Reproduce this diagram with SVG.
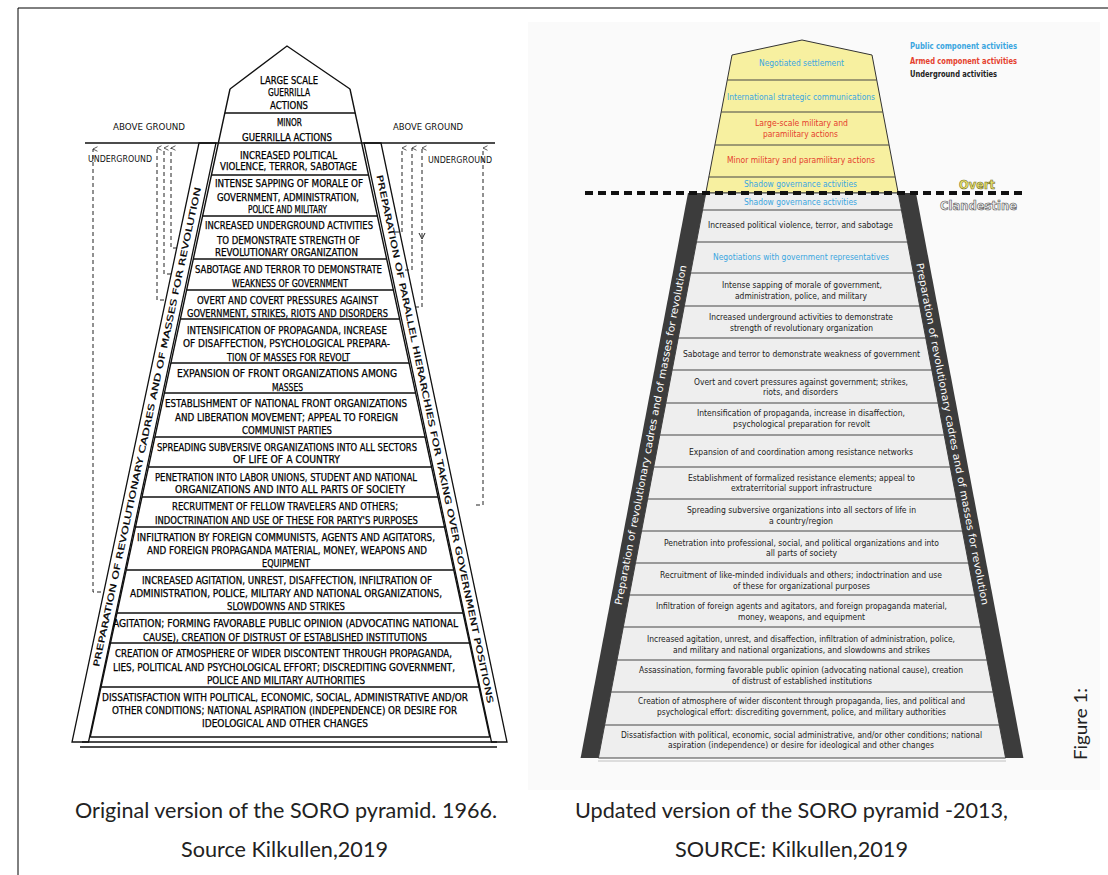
<svg xmlns="http://www.w3.org/2000/svg" width="1108" height="875" viewBox="0 0 1108 875">
<defs>
<style>
.lt{font-family:"DejaVu Sans Condensed","Liberation Sans Narrow","Liberation Sans",sans-serif;font-size:10px;fill:#000;stroke:#000;stroke-width:0.25;text-anchor:middle}
.bt{font-family:"DejaVu Sans Condensed","Liberation Sans Narrow","Liberation Sans",sans-serif;font-size:8.5px;fill:#000;stroke:#000;stroke-width:0.2;text-anchor:middle}
.lbl{font-family:"DejaVu Sans Condensed","Liberation Sans Narrow","Liberation Sans",sans-serif;font-size:9.5px;fill:#111;text-anchor:middle}
.rt{font-family:"DejaVu Sans Condensed","Liberation Sans Narrow","Liberation Sans",sans-serif;font-size:8.5px;fill:#222;text-anchor:middle}
.lg{font-family:"DejaVu Sans Condensed","Liberation Sans Narrow","Liberation Sans",sans-serif;font-size:9px;font-weight:bold}
.bl{fill:#3aa6e0}
.rd{fill:#e5412d}
.ln{stroke:#111;stroke-width:1.4;fill:none}
.rl{stroke:#444;stroke-width:1;fill:none}
.dash{stroke:#222;stroke-width:1;stroke-dasharray:4 3;fill:none}
.cap{font-family:Lato,"Open Sans","Liberation Sans",sans-serif;font-size:21px;fill:#222;text-anchor:middle}
.fig{font-family:Lato,"Open Sans","Liberation Sans",sans-serif;font-size:17px;fill:#222;text-anchor:middle}
.band{fill:#fff;stroke:#111;stroke-width:1.3}
.dband{fill:#3c3c3c}
.wt{font-family:"DejaVu Sans Condensed","Liberation Sans Narrow","Liberation Sans",sans-serif;font-size:10px;fill:#fff;text-anchor:middle}
</style>
<marker id="up" viewBox="0 0 8 8" refX="4" refY="1" markerWidth="6" markerHeight="6" orient="auto-start-reverse" markerUnits="userSpaceOnUse">
<path d="M1,7 L4,1 L7,7" fill="none" stroke="#222" stroke-width="1"/>
</marker>
</defs>
<rect width="1108" height="875" fill="#fff"/>
<path d="M18,8 H1108 M18,8 V875" stroke="#000" stroke-width="1" fill="none"/>
<rect x="528" y="22" width="572" height="768" fill="#fafafa"/>

<!-- LEFT PYRAMID -->
<g id="left-pyramid">
<g id="L-bands">
<polygon class="band" points="199,143 216,143 88.5,742 72,742"/>
<polygon class="band" points="364,143 381,143 507,742 491.5,742"/>
<text class="bt" transform="translate(147,427) rotate(-78)" y="3" textLength="490" lengthAdjust="spacingAndGlyphs">PREPARATION OF REVOLUTIONARY CADRES AND OF MASSES FOR REVOLUTION</text>
<text class="bt" transform="translate(435,439) rotate(78.1)" y="3" textLength="540" lengthAdjust="spacingAndGlyphs">PREPARATION OF PARALLEL HIERARCHIES FOR TAKING OVER GOVERNMENT POSITIONS</text>
</g>
<g id="L-frame">
<path class="ln" d="M230,89 L287,46 L350,89 M230,89 L90.2,737 M350,89 L489.8,737"/>
<path class="ln" d="M224.8,113 H355.2 M211.5,175 H368.5 M202.6,216 H377.4 M193.3,259 H386.7 M186.6,290 H393.4 M180.4,319 H399.6 M170.9,363 H409.1 M164.4,393 H415.6 M154.9,437 H425.1 M148.5,467 H431.5 M142,497 H438 M135.5,527 H444.5 M126.3,570 H453.8 M117,613 H463 M110.5,643 H469.5 M101,687 H479 M90.2,737 H489.8"/>
<path class="ln" d="M82,742 H497 M80,747 H497"/>
<path class="ln" d="M85,143 H495" stroke-width="1.6"/>
</g>
<g id="L-labels">
<text class="lbl" x="149" y="130" textLength="72" lengthAdjust="spacingAndGlyphs">ABOVE GROUND</text>
<text class="lbl" x="428" y="130" textLength="70" lengthAdjust="spacingAndGlyphs">ABOVE GROUND</text>
<text class="lbl" x="120" y="161.5" textLength="64" lengthAdjust="spacingAndGlyphs" style="font-size:8.5px">UNDERGROUND</text>
<text class="lbl" x="460" y="162.5" textLength="64" lengthAdjust="spacingAndGlyphs" style="font-size:8.5px">UNDERGROUND</text>
</g>
<g id="L-row1"><text class="lt" x="289" y="83.5" textLength="58" lengthAdjust="spacingAndGlyphs">LARGE SCALE</text><text class="lt" x="289" y="95.5" textLength="42" lengthAdjust="spacingAndGlyphs">GUERRILLA</text><text class="lt" x="289" y="108.5" textLength="38" lengthAdjust="spacingAndGlyphs">ACTIONS</text></g>
<g id="L-row2"><text class="lt" x="289.5" y="125.5" textLength="25" lengthAdjust="spacingAndGlyphs">MINOR</text><text class="lt" x="287" y="140.5" textLength="90" lengthAdjust="spacingAndGlyphs">GUERRILLA ACTIONS</text></g>
<g id="L-row3"><text class="lt" x="288.5" y="158.5" textLength="97" lengthAdjust="spacingAndGlyphs">INCREASED POLITICAL</text><text class="lt" x="288.5" y="169.5" textLength="137" lengthAdjust="spacingAndGlyphs">VIOLENCE, TERROR, SABOTAGE</text></g>
<g id="L-row4"><text class="lt" x="289" y="186.5" textLength="148" lengthAdjust="spacingAndGlyphs">INTENSE SAPPING OF MORALE OF</text><text class="lt" x="288" y="200.5" textLength="142" lengthAdjust="spacingAndGlyphs">GOVERNMENT, ADMINISTRATION,</text><text class="lt" x="287.5" y="212.5" textLength="79" lengthAdjust="spacingAndGlyphs">POLICE AND MILITARY</text></g>
<g id="L-row5"><text class="lt" x="289" y="228.5" textLength="168" lengthAdjust="spacingAndGlyphs">INCREASED UNDERGROUND ACTIVITIES</text><text class="lt" x="288.5" y="243.5" textLength="143" lengthAdjust="spacingAndGlyphs">TO DEMONSTRATE STRENGTH OF</text><text class="lt" x="286.5" y="255.5" textLength="143" lengthAdjust="spacingAndGlyphs">REVOLUTIONARY ORGANIZATION</text></g>
<g id="L-row6"><text class="lt" x="288.5" y="272.5" textLength="187" lengthAdjust="spacingAndGlyphs">SABOTAGE AND TERROR TO DEMONSTRATE</text><text class="lt" x="290" y="286.5" textLength="116" lengthAdjust="spacingAndGlyphs">WEAKNESS OF GOVERNMENT</text></g>
<g id="L-row7"><text class="lt" x="287.5" y="303.5" textLength="181" lengthAdjust="spacingAndGlyphs">OVERT AND COVERT PRESSURES AGAINST</text><text class="lt" x="287.5" y="316.5" textLength="201" lengthAdjust="spacingAndGlyphs">GOVERNMENT, STRIKES, RIOTS AND DISORDERS</text></g>
<g id="L-row8"><text class="lt" x="287" y="333.5" textLength="200" lengthAdjust="spacingAndGlyphs">INTENSIFICATION OF PROPAGANDA, INCREASE</text><text class="lt" x="286.5" y="346.5" textLength="207" lengthAdjust="spacingAndGlyphs">OF DISAFFECTION, PSYCHOLOGICAL PREPARA-</text><text class="lt" x="288.5" y="360.5" textLength="123" lengthAdjust="spacingAndGlyphs">TION OF MASSES FOR REVOLT</text></g>
<g id="L-row9"><text class="lt" x="287" y="376.5" textLength="220" lengthAdjust="spacingAndGlyphs">EXPANSION OF FRONT ORGANIZATIONS AMONG</text><text class="lt" x="287.5" y="390.5" textLength="31" lengthAdjust="spacingAndGlyphs">MASSES</text></g>
<g id="L-row10"><text class="lt" x="286" y="406.5" textLength="242" lengthAdjust="spacingAndGlyphs">ESTABLISHMENT OF NATIONAL FRONT ORGANIZATIONS</text><text class="lt" x="286.5" y="420.5" textLength="223" lengthAdjust="spacingAndGlyphs">AND LIBERATION MOVEMENT; APPEAL TO FOREIGN</text><text class="lt" x="287" y="433.5" textLength="90" lengthAdjust="spacingAndGlyphs">COMMUNIST PARTIES</text></g>
<g id="L-row11"><text class="lt" x="287" y="450.5" textLength="260" lengthAdjust="spacingAndGlyphs">SPREADING SUBVERSIVE ORGANIZATIONS INTO ALL SECTORS</text><text class="lt" x="286.5" y="462.5" textLength="107" lengthAdjust="spacingAndGlyphs">OF LIFE OF A COUNTRY</text></g>
<g id="L-row12"><text class="lt" x="286" y="480.5" textLength="262" lengthAdjust="spacingAndGlyphs">PENETRATION INTO LABOR UNIONS, STUDENT AND NATIONAL</text><text class="lt" x="290" y="492.5" textLength="230" lengthAdjust="spacingAndGlyphs">ORGANIZATIONS AND INTO ALL PARTS OF SOCIETY</text></g>
<g id="L-row13"><text class="lt" x="285" y="509.5" textLength="226" lengthAdjust="spacingAndGlyphs">RECRUITMENT OF FELLOW TRAVELERS AND OTHERS;</text><text class="lt" x="286.5" y="523.5" textLength="263" lengthAdjust="spacingAndGlyphs">INDOCTRINATION AND USE OF THESE FOR PARTY'S PURPOSES</text></g>
<g id="L-row14"><text class="lt" x="286" y="540.5" textLength="298" lengthAdjust="spacingAndGlyphs">INFILTRATION BY FOREIGN COMMUNISTS, AGENTS AND AGITATORS,</text><text class="lt" x="287" y="553.5" textLength="280" lengthAdjust="spacingAndGlyphs">AND FOREIGN PROPAGANDA MATERIAL, MONEY, WEAPONS AND</text><text class="lt" x="286" y="566.5" textLength="48" lengthAdjust="spacingAndGlyphs">EQUIPMENT</text></g>
<g id="L-row15"><text class="lt" x="287" y="583.5" textLength="290" lengthAdjust="spacingAndGlyphs">INCREASED AGITATION, UNREST, DISAFFECTION, INFILTRATION OF</text><text class="lt" x="286" y="596.5" textLength="312" lengthAdjust="spacingAndGlyphs">ADMINISTRATION, POLICE, MILITARY AND NATIONAL ORGANIZATIONS,</text><text class="lt" x="286" y="609.5" textLength="118" lengthAdjust="spacingAndGlyphs">SLOWDOWNS AND STRIKES</text></g>
<g id="L-row16"><text class="lt" x="285.5" y="626.5" textLength="345" lengthAdjust="spacingAndGlyphs">AGITATION; FORMING FAVORABLE PUBLIC OPINION (ADVOCATING NATIONAL</text><text class="lt" x="285" y="640.5" textLength="284" lengthAdjust="spacingAndGlyphs">CAUSE), CREATION OF DISTRUST OF ESTABLISHED INSTITUTIONS</text></g>
<g id="L-row17"><text class="lt" x="283.5" y="656.5" textLength="337" lengthAdjust="spacingAndGlyphs">CREATION OF ATMOSPHERE OF WIDER DISCONTENT THROUGH PROPAGANDA,</text><text class="lt" x="284" y="670.5" textLength="342" lengthAdjust="spacingAndGlyphs">LIES, POLITICAL AND PSYCHOLOGICAL EFFORT; DISCREDITING GOVERNMENT,</text><text class="lt" x="286" y="683.5" textLength="158" lengthAdjust="spacingAndGlyphs">POLICE AND MILITARY AUTHORITIES</text></g>
<g id="L-row18"><text class="lt" x="285" y="700.5" textLength="366" lengthAdjust="spacingAndGlyphs">DISSATISFACTION WITH POLITICAL, ECONOMIC, SOCIAL, ADMINISTRATIVE AND/OR</text><text class="lt" x="284.5" y="713.5" textLength="345" lengthAdjust="spacingAndGlyphs">OTHER CONDITIONS; NATIONAL ASPIRATION (INDEPENDENCE) OR DESIRE FOR</text><text class="lt" x="285" y="726.5" textLength="166" lengthAdjust="spacingAndGlyphs">IDEOLOGICAL AND OTHER CHANGES</text></g>
</g>

<g id="connectors">
<path class="dash" d="M101,592 H93 V149" marker-end="url(#up)"/>
<path class="dash" d="M164,300 H157 V148" marker-end="url(#up)"/>
<path class="dash" d="M171,274 H164 V148" marker-end="url(#up)"/>
<path class="dash" d="M177,248 H171 V148" marker-end="url(#up)"/>
<path class="dash" d="M395,232 H402 V148" marker-end="url(#up)"/>
<path class="dash" d="M405,270 H412 V148" marker-end="url(#up)"/>
<path class="dash" d="M415,307 H422 V148" marker-end="url(#up)"/>
<path d="M419,233 L422,239 L425,233" fill="none" stroke="#222" stroke-width="1"/>
<path class="dash" d="M476,505 H483 V148" marker-end="url(#up)"/>
</g>

<!-- RIGHT PYRAMID -->
<g id="right-pyramid">
<polygon points="732,55 802,40 872,55 898.2,193 705.8,193" fill="#f7f0a0" stroke="#333" stroke-width="1"/>
<polygon points="705.8,193 898.2,193 1005.6,758 598.4,758" fill="#eeeeee" stroke="#444" stroke-width="1"/>
<path class="rl" d="M727.3,80 H876.8 M721.2,112 H882.8 M714.9,145 H889.1 M708.8,177 H895.2 M702.6,210 H901.5 M696.5,242 H907.5 M690.6,273 H913.4 M684.3,306 H919.7 M678.2,338 H925.8 M672.2,370 H931.9 M665.9,403 H938.1 M659.8,435 H944.2 M653.7,467 H950.3 M647.6,499 H956.4 M641.6,531 H962.4 M635.5,563 H968.5 M629.4,595 H974.6 M623.3,627 H980.7 M617.1,660 H986.9 M611,692 H993 M604.7,725 H999.3"/>
<line x1="598" y1="761" x2="1006" y2="761" stroke="#ddd" stroke-width="2"/>
<g id="R-bands">
<polygon class="dband" points="688,193 705.8,193 598.4,758 580.6,758"/>
<polygon class="dband" points="898.2,193 916,193 1023.4,758 1005.6,758"/>
<text class="wt" transform="translate(650.6,435) rotate(-79.2)" y="3.5" textLength="346" lengthAdjust="spacingAndGlyphs">Preparation of revolutionary cadres and of masses for revolution</text>
<text class="wt" transform="translate(952.5,434) rotate(79.1)" y="3.5" textLength="348" lengthAdjust="spacingAndGlyphs">Preparation of revolutionary cadres and of masses for revolution</text>
</g>
<line id="overt-line" x1="585" y1="193" x2="1022" y2="193" stroke="#111" stroke-width="4" stroke-dasharray="8 5"/>
<g id="R-legend">
<text class="lg bl" x="910" y="49" textLength="107" lengthAdjust="spacingAndGlyphs">Public component activities</text>
<text class="lg rd" x="910" y="64" textLength="107" lengthAdjust="spacingAndGlyphs">Armed component activities</text>
<text class="lg" x="910" y="77" fill="#222" textLength="87" lengthAdjust="spacingAndGlyphs">Underground activities</text>
<text x="977" y="188.5" font-family="'DejaVu Sans','Liberation Sans',sans-serif" font-size="12" font-weight="bold" text-anchor="middle" fill="#ece56e" stroke="#6f6a22" stroke-width="0.6" textLength="36" lengthAdjust="spacingAndGlyphs">Overt</text>
<text x="978.5" y="209.5" font-family="'DejaVu Sans','Liberation Sans',sans-serif" font-size="12" font-weight="bold" text-anchor="middle" fill="#f0f0f0" stroke="#555" stroke-width="0.6" textLength="77" lengthAdjust="spacingAndGlyphs">Clandestine</text>
</g>
<g id="R-y1"><text class="rt bl" x="801.5" y="66" textLength="85" lengthAdjust="spacingAndGlyphs">Negotiated settlement</text></g>
<g id="R-y2"><text class="rt bl" x="801" y="100" textLength="148" lengthAdjust="spacingAndGlyphs">International strategic communications</text></g>
<g id="R-y3"><text class="rt rd" x="801.5" y="126" textLength="93" lengthAdjust="spacingAndGlyphs">Large-scale military and</text><text class="rt rd" x="800.5" y="137" textLength="75" lengthAdjust="spacingAndGlyphs">paramilitary actions</text></g>
<g id="R-y4"><text class="rt rd" x="801" y="163" textLength="148" lengthAdjust="spacingAndGlyphs">Minor military and paramilitary actions</text></g>
<g id="R-y5"><text class="rt bl" x="800.5" y="187" textLength="113" lengthAdjust="spacingAndGlyphs">Shadow governance activities</text></g>
<g id="R-g1"><text class="rt bl" x="800.5" y="205" textLength="113" lengthAdjust="spacingAndGlyphs">Shadow governance activities</text></g>
<g id="R-g2"><text class="rt" x="800.5" y="228" textLength="185" lengthAdjust="spacingAndGlyphs">Increased political violence, terror, and sabotage</text></g>
<g id="R-g3"><text class="rt bl" x="801" y="260" textLength="176" lengthAdjust="spacingAndGlyphs">Negotiations with government representatives</text></g>
<g id="R-g4"><text class="rt" x="802" y="288" textLength="160" lengthAdjust="spacingAndGlyphs">Intense sapping of morale of government,</text><text class="rt" x="801" y="299" textLength="132" lengthAdjust="spacingAndGlyphs">administration, police, and military</text></g>
<g id="R-g5"><text class="rt" x="801" y="320" textLength="184" lengthAdjust="spacingAndGlyphs">Increased underground activities to demonstrate</text><text class="rt" x="801.5" y="331" textLength="143" lengthAdjust="spacingAndGlyphs">strength of revolutionary organization</text></g>
<g id="R-g6"><text class="rt" x="801.5" y="357" textLength="237" lengthAdjust="spacingAndGlyphs">Sabotage and terror to demonstrate weakness of government</text></g>
<g id="R-g7"><text class="rt" x="801" y="385" textLength="214" lengthAdjust="spacingAndGlyphs">Overt and covert pressures against government; strikes,</text><text class="rt" x="800.5" y="395" textLength="75" lengthAdjust="spacingAndGlyphs">riots, and disorders</text></g>
<g id="R-g8"><text class="rt" x="801" y="416" textLength="208" lengthAdjust="spacingAndGlyphs">Intensification of propaganda, increase in disaffection,</text><text class="rt" x="801.5" y="427" textLength="137" lengthAdjust="spacingAndGlyphs">psychological preparation for revolt</text></g>
<g id="R-g9"><text class="rt" x="801" y="455" textLength="224" lengthAdjust="spacingAndGlyphs">Expansion of and coordination among resistance networks</text></g>
<g id="R-g10"><text class="rt" x="801.5" y="481" textLength="227" lengthAdjust="spacingAndGlyphs">Establishment of formalized resistance elements; appeal to</text><text class="rt" x="801.5" y="491" textLength="141" lengthAdjust="spacingAndGlyphs">extraterritorial support infrastructure</text></g>
<g id="R-g11"><text class="rt" x="801.5" y="513" textLength="229" lengthAdjust="spacingAndGlyphs">Spreading subversive organizations into all sectors of life in</text><text class="rt" x="801" y="524" textLength="64" lengthAdjust="spacingAndGlyphs">a country/region</text></g>
<g id="R-g12"><text class="rt" x="801.5" y="546" textLength="275" lengthAdjust="spacingAndGlyphs">Penetration into professional, social, and political organizations and into</text><text class="rt" x="801.5" y="556" textLength="71" lengthAdjust="spacingAndGlyphs">all parts of society</text></g>
<g id="R-g13"><text class="rt" x="801" y="578" textLength="282" lengthAdjust="spacingAndGlyphs">Recruitment of like-minded individuals and others; indoctrination and use</text><text class="rt" x="801.5" y="589" textLength="137" lengthAdjust="spacingAndGlyphs">of these for organizational purposes</text></g>
<g id="R-g14"><text class="rt" x="801.5" y="609" textLength="291" lengthAdjust="spacingAndGlyphs">Infiltration of foreign agents and agitators, and foreign propaganda material,</text><text class="rt" x="801.5" y="620" textLength="127" lengthAdjust="spacingAndGlyphs">money, weapons, and equipment</text></g>
<g id="R-g15"><text class="rt" x="801" y="642" textLength="308" lengthAdjust="spacingAndGlyphs">Increased agitation, unrest, and disaffection, infiltration of administration, police,</text><text class="rt" x="801.5" y="653" textLength="257" lengthAdjust="spacingAndGlyphs">and military and national organizations, and slowdowns and strikes</text></g>
<g id="R-g16"><text class="rt" x="801" y="673" textLength="324" lengthAdjust="spacingAndGlyphs">Assassination, forming favorable public opinion (advocating national cause), creation</text><text class="rt" x="802" y="684" textLength="140" lengthAdjust="spacingAndGlyphs">of distrust of established institutions</text></g>
<g id="R-g17"><text class="rt" x="801.5" y="704" textLength="327" lengthAdjust="spacingAndGlyphs">Creation of atmosphere of wider discontent through propaganda, lies, and political and</text><text class="rt" x="801.5" y="715" textLength="289" lengthAdjust="spacingAndGlyphs">psychological effort: discrediting government, police, and military authorities</text></g>
<g id="R-g18"><text class="rt" x="801.5" y="738" textLength="361" lengthAdjust="spacingAndGlyphs">Dissatisfaction with political, economic, social administrative, and/or other conditions; national</text><text class="rt" x="801" y="748" textLength="266" lengthAdjust="spacingAndGlyphs">aspiration (independence) or desire for ideological and other changes</text></g>
</g>

<g id="captions">
<text class="cap" x="286" y="818" textLength="422" lengthAdjust="spacingAndGlyphs">Original version of the SORO pyramid. 1966.</text>
<text class="cap" x="284.5" y="857" textLength="207" lengthAdjust="spacingAndGlyphs">Source Kilkullen,2019</text>
<text class="cap" x="791.5" y="818" textLength="433" lengthAdjust="spacingAndGlyphs">Updated version of the SORO pyramid -2013,</text>
<text class="cap" x="791.5" y="857" textLength="233" lengthAdjust="spacingAndGlyphs">SOURCE: Kilkullen,2019</text>
<text class="fig" transform="translate(1087,724) rotate(-90)" textLength="72" lengthAdjust="spacingAndGlyphs">Figure 1:</text>
</g>
</svg>
